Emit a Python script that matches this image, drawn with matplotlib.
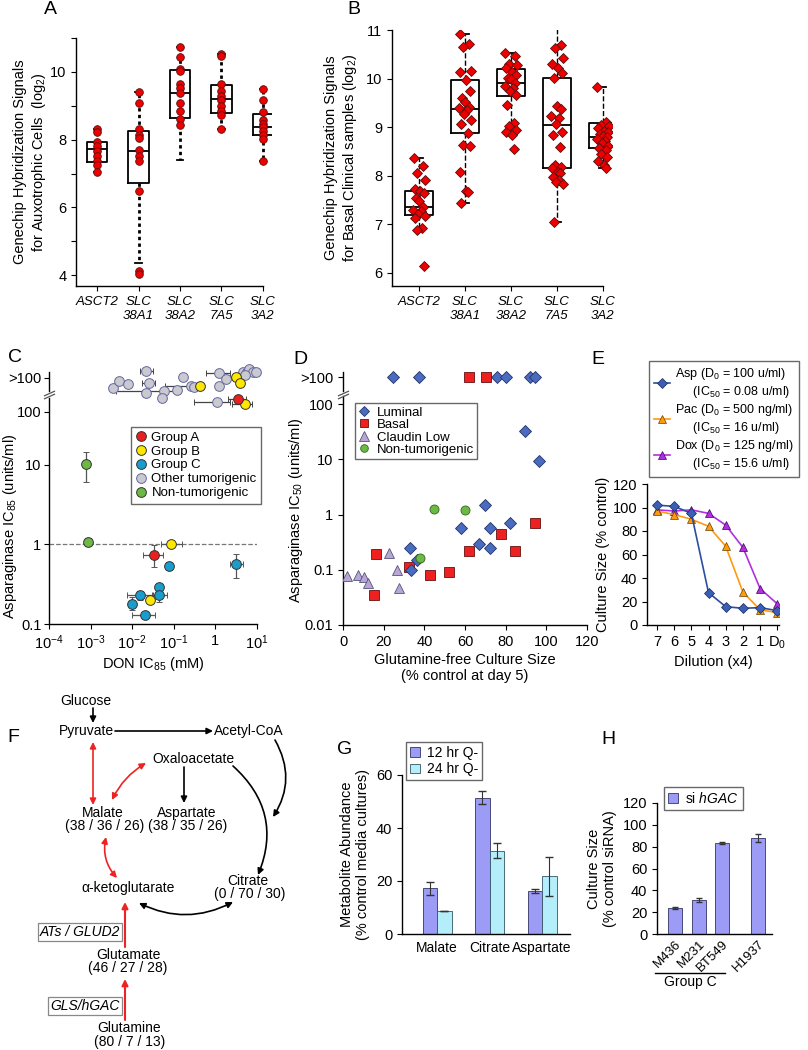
import numpy as np
import matplotlib
matplotlib.use('Agg')
import matplotlib.pyplot as plt
import matplotlib.transforms as mtrans
from matplotlib.lines import Line2D

plt.rcParams['font.family'] = ['Liberation Sans', 'DejaVu Sans']
plt.rcParams['mathtext.fontset'] = 'custom'
plt.rcParams['mathtext.rm'] = 'Liberation Sans'
plt.rcParams['mathtext.it'] = 'Liberation Sans:italic'
plt.rcParams['mathtext.default'] = 'regular'
plt.rcParams['font.size'] = 10
plt.rcParams['axes.linewidth'] = 1.0

# ---------------- data ----------------
genes = ['ASCT2', 'SLC\n38A1', 'SLC\n38A2', 'SLC\n7A5', 'SLC\n3A2']

# A: auxotrophic cells
a_points = [
    [8.31, 8.22, 7.92, 7.80, 7.66, 7.51, 7.36, 7.24, 7.04],
    [9.40, 9.08, 8.31, 8.15, 8.05, 7.68, 7.53, 7.37, 6.47, 4.11, 4.04],
    [10.74, 10.44, 10.09, 10.02, 9.63, 9.53, 9.38, 9.08, 8.84, 8.61, 8.44],
    [10.54, 10.46, 9.63, 9.43, 9.28, 9.18, 8.99, 8.84, 8.74, 8.31],
    [9.50, 9.18, 8.82, 8.59, 8.47, 8.36, 8.25, 8.15, 8.02, 7.38],
]
a_q1 = [7.33, 6.72, 8.64, 8.79, 8.14]
a_med = [7.73, 7.67, 9.38, 9.21, 8.38]
a_q3 = [7.92, 8.25, 10.05, 9.60, 8.76]
a_lo = [7.04, 4.37, 7.41, 8.31, 7.38]
a_hi = [8.31, 9.40, 10.74, 10.54, 9.50]

# B: basal clinical samples
b_points = [
    [8.36, 8.20, 8.06, 7.92, 7.72, 7.69, 7.65, 7.55, 7.48, 7.35, 7.30, 7.28,
     7.22, 7.17, 7.12, 6.92, 6.89, 6.14],
    [10.92, 10.71, 10.64, 10.16, 10.13, 9.97, 9.75, 9.61, 9.52, 9.42, 9.39,
     9.35, 9.28, 9.15, 9.06, 8.88, 8.64, 8.62, 8.08, 7.69, 7.67, 7.44],
    [10.52, 10.47, 10.31, 10.28, 10.21, 10.14, 10.07, 10.02, 9.99, 9.90, 9.85,
     9.80, 9.75, 9.66, 9.45, 9.09, 9.02, 8.94, 8.91, 8.84, 8.55],
    [11.14, 10.69, 10.62, 10.42, 10.31, 10.21, 10.12, 10.02, 9.43, 9.37, 9.23,
     9.18, 9.06, 8.89, 8.84, 8.60, 8.22, 8.18, 8.15, 8.08, 8.05, 7.98, 7.91,
     7.88, 7.84, 7.05],
    [9.82, 9.10, 9.05, 9.02, 8.98, 8.93, 8.90, 8.86, 8.82, 8.79, 8.75, 8.72,
     8.68, 8.62, 8.58, 8.52, 8.45, 8.38, 8.30, 8.22, 8.15],
]
b_q1 = [7.20, 8.87, 9.65, 8.15, 8.58]
b_med = [7.35, 9.38, 9.90, 9.05, 8.80]
b_q3 = [7.69, 9.98, 10.20, 10.02, 9.08]
b_lo = [6.89, 7.44, 8.84, 7.05, 8.15]
b_hi = [8.36, 10.92, 10.52, 11.14, 9.82]
jit = [-0.12, 0.08, -0.04, 0.13, -0.10, 0.03, 0.11, -0.07, 0.00, 0.09, -0.13,
       0.05, -0.02, 0.12, -0.09, 0.06, -0.05, 0.10, -0.11, 0.02, 0.07, -0.08,
       0.04, -0.03, 0.13, -0.06]

# C: DON IC85 vs asparaginase IC85  (x, y, xlo, xhi, ylo, yhi)
c_groups = {
    'Group A': ('#e8201f', [(0.033, 0.735, 0.018, 0.055, 0.52, 0.97)]),
    'Group B': ('#ffe800', [(0.085, 1.0, 0.049, 0.158, 1.0, 1.0),
                            (0.027, 0.20, 0.027, 0.027, 0.20, 0.20)]),
    'Group C': ('#1a9dcc', [(0.077, 0.535, 0.070, 0.085, 0.48, 0.60),
                            (3.2, 0.56, 2.3, 4.5, 0.376, 0.76),
                            (0.044, 0.293, 0.044, 0.044, 0.293, 0.293),
                            (0.0155, 0.23, 0.0074, 0.032, 0.20, 0.26),
                            (0.045, 0.228, 0.030, 0.070, 0.19, 0.27),
                            (0.010, 0.18, 0.010, 0.010, 0.15, 0.22),
                            (0.0204, 0.131, 0.010, 0.035, 0.131, 0.131)]),
    'Other tumorigenic': ('#c9c9d0', []),
    'Non-tumorigenic': ('#6cb944', [(7.8e-4, 10.3, 7.8e-4, 7.8e-4, 6.0, 17.6),
                                    (8.5e-4, 1.08, 8.5e-4, 8.5e-4, 0.95, 1.2)]),
}
# points above 100 units/ml (x, position in band, xlo, xhi)
c_band = {
    'Other tumorigenic': [(0.0034, 0.42, 0.0034, 0.0034), (0.0047, 0.60, 0.0047, 0.0047),
                          (0.0078, 0.52, 0.0078, 0.0078), (0.022, 0.84, 0.015, 0.032),
                          (0.025, 0.54, 0.017, 0.035), (0.021, 0.32, 0.021, 0.021),
                          (0.058, 0.36, 0.004, 0.12), (0.052, 0.18, 0.052, 0.052),
                          (0.12, 0.38, 0.12, 0.12), (0.17, 0.70, 0.17, 0.17),
                          (0.26, 0.48, 0.06, 0.5), (0.31, 0.46, 0.31, 0.31),
                          (1.23, 0.78, 0.6, 2.3), (1.23, 0.48, 1.23, 1.23),
                          (1.78, 0.64, 1.78, 1.78), (1.12, 0.10, 0.3, 2.3),
                          (4.7, 0.80, 4.7, 4.7), (5.6, 0.82, 5.6, 5.6),
                          (6.5, 0.87, 6.5, 6.5), (7.9, 0.82, 7.9, 7.9),
                          (9.5, 0.82, 9.5, 9.5), (5.1, 0.74, 5.1, 5.1)],
    'Group B': [(0.43, 0.48, 0.43, 0.43), (3.2, 0.70, 2.2, 3.2),
                (3.9, 0.55, 3.9, 3.9), (5.1, 0.05, 2.5, 7.5)],
    'Group A': [(3.55, 0.16, 2.0, 5.5)],
}

# D: glutamine-free culture size vs asparaginase IC50
lum_x = [32.8, 36.6, 33.6, 58.2, 66.9, 69.7, 72.1, 72.1, 82.0, 89.3, 96.4]
lum_y = [0.25, 0.15, 0.10, 0.565, 0.29, 1.46, 0.56, 0.245, 0.70, 33, 9.4]
lum_top = [24.6, 37.4, 75.9, 80.3, 91.8, 94.3]
bas_x = [16.1, 15.2, 32.5, 42.6, 52.1, 62.0, 77.5, 84.8, 94.3]
bas_y = [0.19, 0.035, 0.11, 0.081, 0.09, 0.22, 0.45, 0.22, 0.70]
bas_top = [61.8, 70.5]
cla_x = [2.0, 7.4, 10.3, 12.3, 22.6, 26.7, 27.5]
cla_y = [0.078, 0.080, 0.074, 0.057, 0.20, 0.097, 0.046]
non_x = [44.6, 60.2, 37.7]
non_y = [1.25, 1.21, 0.166]

# E: dilution series
dil_labels = ['7', '6', '5', '4', '3', '2', '1', 'D$_0$']
asp = [102, 101, 95, 27.5, 15.6, 14.2, 14.8, 12.2]
pac = [97, 94, 90, 84, 67, 28, 13, 10.5]
dox = [98, 97, 98, 95, 85, 66, 31, 18]

# G: metabolite abundance
metabolites = ['Malate', 'Citrate', 'Aspartate']
q12 = [17.2, 51.4, 16.1]
q12_err = [2.5, 2.5, 0.8]
q24 = [8.6, 31.5, 21.7]
q24_err = [0, 3.0, 7.5]

# H: siRNA
cells = ['M436', 'M231', 'BT549', 'H1937']
cell_pos = [0, 1, 2, 3.5]
si_gac = [23.6, 31.2, 83.2, 87.8]
si_err = [1.0, 1.5, 1.0, 3.5]

# ---------------- figure ----------------
W, H = 808, 1050
fig = plt.figure(figsize=(W / 100, H / 100), dpi=100)


def px_axes(l, t, r, b, **kw):
    return fig.add_axes([l / W, 1 - b / H, (r - l) / W, (b - t) / H], **kw)


def clean(ax):
    ax.spines['top'].set_visible(False)
    ax.spines['right'].set_visible(False)


def boxes(ax, q1, med, q3, lo, hi, width, wls, wlw):
    stats = [dict(q1=a, med=m, q3=b, whislo=l, whishi=h, fliers=[])
             for a, m, b, l, h in zip(q1, med, q3, lo, hi)]
    ax.bxp(stats, positions=range(1, len(stats) + 1), widths=width,
           showfliers=False, capwidths=0.16,
           boxprops=dict(color='black', lw=1.3),
           medianprops=dict(color='black', lw=1.3),
           whiskerprops=dict(color='black', lw=wlw, ls=wls),
           capprops=dict(color='black', lw=1.3))


def fig_legend(ax, x, y, **kw):
    opts = dict(loc='upper left', bbox_to_anchor=(x / W, 1 - y / H),
                bbox_transform=fig.transFigure, fancybox=False,
                edgecolor='#444444', borderaxespad=0)
    opts.update(kw)
    return ax.legend(**opts)


# ---- A ----
axa = px_axes(76, 38, 272, 286)
clean(axa)
boxes(axa, a_q1, a_med, a_q3, a_lo, a_hi, 0.5, (0, (1.2, 1.2)), 2.0)
for i, pts in enumerate(a_points):
    axa.plot([i + 1] * len(pts), pts, 'o', ms=5.5, mfc='#ee0000',
             mec='#551111', mew=0.6, zorder=5)
axa.set_xlim(0.49, 5.22)
axa.set_ylim(3.68, 11)
axa.spines['bottom'].set_bounds(0.49, 5)
axa.set_yticks(range(4, 12))
axa.set_yticklabels(['4', '', '6', '', '8', '', '10', ''], fontsize=10.5)
axa.set_xticks(range(1, 6))
axa.set_xticklabels(genes, fontstyle='italic', fontsize=9.5)
axa.set_ylabel('Genechip Hybridization Signals\nfor Auxotrophic Cells  (log$_2$)',
               fontsize=10.5)
axa.yaxis.set_label_coords(-28 / 196, 0.5)

# ---- B ----
axb = px_axes(392, 30, 612, 286)
clean(axb)
boxes(axb, b_q1, b_med, b_q3, b_lo, b_hi, 0.62, '--', 1.0)
for i, pts in enumerate(b_points):
    xs = [i + 1 + jit[k] for k in range(len(pts))]
    axb.plot(xs, pts, 'D', ms=5, mfc='#ee0000', mec='#551111', mew=0.6,
             zorder=5)
axb.set_xlim(0.41, 5.2)
axb.set_ylim(5.73, 11)
axb.spines['bottom'].set_bounds(0.41, 5)
axb.set_yticks(range(6, 12))
axb.tick_params(axis='y', labelsize=10.5)
axb.set_xticks(range(1, 6))
axb.set_xticklabels(genes, fontstyle='italic', fontsize=9.5)
axb.set_ylabel('Genechip Hybridization Signals\nfor Basal Clinical samples (log$_2$)',
               fontsize=10.5)
axb.yaxis.set_label_coords(-33 / 220, 0.5)


# ---- C ----
def c_fwd(v):
    l = np.log10(np.clip(np.asarray(v, dtype=float), 1e-12, None))
    return np.where(l <= 1, l, 1 + (l - 1) * 0.66)


def c_inv(t):
    t = np.asarray(t, dtype=float)
    return np.where(t <= 1, 10.0 ** t, 10.0 ** (1 + (t - 1) / 0.66))


axc = px_axes(49, 398, 257, 624)
clean(axc)
axc.set_xscale('log')
axc.set_yscale('function', functions=(c_fwd, c_inv))
axc.set_xlim(1e-4, 10)
axc.set_ylim(0.1, 184)
axc.axhline(1, color='#777777', ls='--', lw=0.9, zorder=1)
for name, (col, pts) in c_groups.items():
    ec = '#6666a0' if name == 'Other tumorigenic' else '#333333'
    for x, y, xlo, xhi, ylo, yhi in pts:
        axc.errorbar([x], [y], xerr=[[x - xlo], [xhi - x]],
                     yerr=[[y - ylo], [yhi - y]], fmt='o', ms=7, mfc=col,
                     mec=ec, mew=0.7, ecolor='#555555', elinewidth=0.9,
                     capsize=2, zorder=4)
axc.set_xticks([1e-4, 1e-3, 1e-2, 1e-1, 1, 10])
axc.set_xticklabels(['$10^{-4}$', '$10^{-3}$', '$10^{-2}$', '$10^{-1}$', '1',
                     '$10^{1}$'], fontsize=10.5)
axc.xaxis.set_minor_locator(matplotlib.ticker.NullLocator())
axc.yaxis.set_minor_locator(matplotlib.ticker.NullLocator())
axc.set_yticks([0.1, 1, 10, 100])
axc.set_yticklabels(['0.1', '1', '10', '100'], fontsize=10.5)
axc.tick_params(axis='y', pad=2)
axc.set_xlabel('DON IC$_{85}$ (mM)', fontsize=10.5, labelpad=2)
axc.set_ylabel('Asparaginase IC$_{85}$ (units/ml)', fontsize=10.5)
axc.yaxis.set_label_coords(-30 / 208, 0.43)
fig_legend(axc, 131, 427,
           handles=[Line2D([], [], ls='none', marker='o', ms=7, mfc=c,
                           mec='#6666a0' if n == 'Other tumorigenic' else '#333333',
                           mew=0.7, label=n)
                    for n, (c, _) in c_groups.items()],
           fontsize=9.5, handlelength=0.8, handletextpad=0.4, borderpad=0.35,
           labelspacing=0.12)

axcb = px_axes(49, 364, 257, 406, sharex=axc)
axcb.patch.set_visible(False)
for s in ['top', 'right', 'bottom']:
    axcb.spines[s].set_visible(False)
axcb.set_ylim(0, 1)
axcb.spines['left'].set_bounds(0.36, 0.80)
axcb.set_yticks([0.67])
axcb.set_yticklabels(['>100'], fontsize=10.5)
axcb.tick_params(axis='y', pad=2)
axcb.tick_params(axis='x', bottom=False, labelbottom=False, which='both')
for name, pts in c_band.items():
    col = c_groups[name][0]
    ec = '#6666a0' if name == 'Other tumorigenic' else '#333333'
    for x, y, xlo, xhi in pts:
        axcb.errorbar([x], [y], xerr=[[x - xlo], [xhi - x]], fmt='o', ms=7,
                      mfc=col, mec=ec, mew=0.7, ecolor='#444444',
                      elinewidth=0.9, capsize=2, zorder=4, clip_on=False)
axcb.plot([0, 0], [0.24, 0.31], ls='none', marker=[(-1, -0.45), (1, 0.45)],
          ms=8, mec='#555555', mew=0.9, transform=axcb.transAxes,
          clip_on=False)

# ---- D ----
axd = px_axes(343, 396, 587, 625)
clean(axd)
axd.set_yscale('log')
axd.set_xlim(0, 120)
axd.set_ylim(0.01, 140)
axd.yaxis.set_minor_locator(matplotlib.ticker.NullLocator())
axd.set_yticks([0.01, 0.1, 1, 10, 100])
axd.set_yticklabels(['0.01', '0.1', '1', '10', '100'], fontsize=10.5)
axd.set_xticks(range(0, 121, 20))
axd.tick_params(axis='x', labelsize=10.5)
d_style = {
    'Luminal': dict(marker='D', ms=6.5, mfc='#4a6cc0', mec='#223366'),
    'Basal': dict(marker='s', ms=7, mfc='#ee2020', mec='#661111'),
    'Claudin Low': dict(marker='^', ms=7.5, mfc='#b9a6d6', mec='#555577'),
    'Non-tumorigenic': dict(marker='o', ms=6.5, mfc='#6cb944', mec='#336622'),
}
axd.plot(cla_x, cla_y, ls='none', mew=0.6, zorder=3, **d_style['Claudin Low'])
axd.plot(bas_x, bas_y, ls='none', mew=0.6, zorder=3, **d_style['Basal'])
axd.plot(lum_x, lum_y, ls='none', mew=0.6, zorder=4, **d_style['Luminal'])
axd.plot(non_x, non_y, ls='none', mew=0.6, zorder=5, **d_style['Non-tumorigenic'])
axd.set_xlabel('Glutamine-free Culture Size\n(% control at day 5)',
               fontsize=10.5, labelpad=3)
axd.set_ylabel('Asparaginase IC$_{50}$ (units/ml)', fontsize=10.5, labelpad=0)
fig_legend(axd, 355, 403,
           handles=[Line2D([], [], ls='none', label=n, mew=0.6,
                           **dict(st, ms=st['ms'] - 1))
                    for n, st in d_style.items()],
           fontsize=9.5, handlelength=0.8, handletextpad=0.6, borderpad=0.25,
           labelspacing=0.02)

axdb = px_axes(343, 364, 587, 406, sharex=axd)
axdb.patch.set_visible(False)
for s in ['top', 'right', 'bottom']:
    axdb.spines[s].set_visible(False)
axdb.set_ylim(0, 1)
axdb.spines['left'].set_bounds(0.36, 0.80)
axdb.set_yticks([0.69])
axdb.set_yticklabels(['>100'], fontsize=10.5)
axdb.tick_params(axis='x', bottom=False, labelbottom=False, which='both')
axdb.plot(lum_top, [0.69] * len(lum_top), ls='none', mew=0.6, zorder=4,
          **d_style['Luminal'])
axdb.plot(bas_top, [0.69] * len(bas_top), ls='none', mew=0.6, zorder=4,
          **d_style['Basal'])
axdb.plot([0, 0], [0.24, 0.31], ls='none', marker=[(-1, -0.45), (1, 0.45)],
          ms=8, mec='#555555', mew=0.9, transform=axdb.transAxes,
          clip_on=False)

# ---- E ----
axe = px_axes(647, 484, 779, 625)
clean(axe)
xe = np.arange(len(dil_labels))
l_asp, = axe.plot(xe, asp, '-D', color='#2c4ea0', ms=5, mfc='#3a5fb5',
                  mec='#1a2a60', mew=0.5, lw=1.2, zorder=5)
l_pac, = axe.plot(xe, pac, '-^', color='#ff9a10', ms=6, mfc='#ff9a10',
                  mec='#664400', mew=0.5, lw=1.2, zorder=4)
l_dox, = axe.plot(xe, dox, '-^', color='#b030e0', ms=6, mfc='#b030e0',
                  mec='#440066', mew=0.5, lw=1.2, zorder=3)
axe.set_xlim(-0.58, 7.1)
axe.set_ylim(0, 120)
axe.set_yticks(range(0, 121, 20))
axe.set_xticks(xe)
axe.set_xticklabels(dil_labels)
axe.tick_params(labelsize=10.5)
axe.set_xlabel('Dilution (x4)', fontsize=10.5, labelpad=3)
axe.set_ylabel('Culture Size (% control)', fontsize=10.5, labelpad=2)
fig_legend(axe, 649, 361,
           handles=[l_asp, l_pac, l_dox],
           labels=['Asp (D$_0$ = 100 u/ml)\n     (IC$_{50}$ = 0.08 u/ml)',
                   'Pac (D$_0$ = 500 ng/ml)\n     (IC$_{50}$ = 16 u/ml)',
                   'Dox (D$_0$ = 125 ng/ml)\n     (IC$_{50}$ = 15.6 u/ml)'],
           fontsize=9, handlelength=1.3, handletextpad=0.4, borderpad=0.4,
           labelspacing=0.15)

# ---- F (pathway diagram) ----
axf = px_axes(0, 690, 330, 1050)
axf.set_xlim(0, 330)
axf.set_ylim(1050, 690)
axf.axis('off')
RED = '#ee2222'
fs = 10
for txt, x, y in [('Glucose', 86, 701), ('Pyruvate', 86, 731),
                  ('Acetyl-CoA', 249, 731), ('Oxaloacetate', 193, 759),
                  ('Malate', 103, 813), ('(38 / 36 / 26)', 105, 826),
                  ('Aspartate', 187, 813), ('(38 / 35 / 26)', 188, 826),
                  ('\u03b1-ketoglutarate', 128, 888), ('Citrate', 248, 881),
                  ('(0 / 70 / 30)', 250, 894), ('Glutamate', 128, 955),
                  ('(46 / 27 / 28)', 128, 968), ('Glutamine', 129, 1028),
                  ('(80 / 7 / 13)', 130, 1042)]:
    axf.text(x, y, txt, ha='center', va='center', fontsize=fs)
for txt, x, y in [('ATs / GLUD2', 80, 932), ('GLS/hGAC', 85, 1006)]:
    axf.text(x, y, txt, ha='center', va='center', fontsize=fs,
             fontstyle='italic',
             bbox=dict(boxstyle='square,pad=0.15', fc='white', ec='#888888',
                       lw=0.9))


def arrow(p0, p1, color, rad=0.0, both=False, lw=1.2):
    axf.annotate('', xy=p1, xytext=p0,
                 arrowprops=dict(arrowstyle='<|-|>' if both else '-|>',
                                 color=color, lw=lw, shrinkA=0, shrinkB=0,
                                 mutation_scale=9,
                                 connectionstyle=f'arc3,rad={rad}'))


arrow((93, 708), (93, 723), 'black')
arrow((115, 731), (213, 731), 'black')
arrow((93, 742), (93, 805), RED, both=True)
arrow((146, 763), (112, 800), RED, rad=0.15, both=True)
arrow((184, 767), (184, 803), 'black')
arrow((275, 740), (273, 817), 'black', rad=-0.3)
arrow((233, 766), (258, 875), 'black', rad=-0.35)
arrow((106, 837), (117, 878), RED, rad=0.25, both=True)
arrow((139, 903), (233, 902), 'black', rad=0.25, both=True)
arrow((125, 947), (125, 902), RED, lw=1.5)
arrow((125, 1020), (125, 979), RED, lw=1.5)

# ---- G ----
axg = px_axes(402, 775, 570, 934)
clean(axg)
xg = np.arange(len(metabolites))
bw = 0.276
axg.bar(xg - bw / 2, q12, bw, yerr=q12_err, color='#9c9cf6', edgecolor='#333366',
        lw=0.6, capsize=3, error_kw=dict(elinewidth=0.8, ecolor='#333333'),
        label='12 hr Q-')
axg.bar(xg + bw / 2, q24, bw, yerr=q24_err, color='#b4eefa', edgecolor='#335566',
        lw=0.6, capsize=3, error_kw=dict(elinewidth=0.8, ecolor='#333333'),
        label='24 hr Q-')
axg.set_xlim(-0.667, 2.53)
axg.set_ylim(0, 60)
axg.set_yticks(range(0, 61, 20))
axg.set_xticks(xg)
axg.set_xticklabels(metabolites, fontsize=10)
axg.tick_params(axis='x', length=0, pad=5)
axg.tick_params(axis='y', labelsize=10.5)
axg.set_ylabel('Metabolite Abundance\n(% control media cultures)', fontsize=10.5)
fig_legend(axg, 406, 742, fontsize=10, handlelength=0.7, handleheight=0.7,
           handletextpad=0.5, borderpad=0.3, labelspacing=0.15)

# ---- H ----
axh = px_axes(657, 803, 772, 934)
clean(axh)
axh.bar(cell_pos, si_gac, 0.6, yerr=si_err, color='#9c9cf6', edgecolor='#333366',
        lw=0.6, capsize=2.5, error_kw=dict(elinewidth=0.8, ecolor='#333333'),
        label='si $\\it{hGAC}$')
axh.set_xlim(-0.77, 4.1)
axh.set_ylim(0, 120)
axh.set_yticks(range(0, 121, 20))
axh.set_xticks(cell_pos)
axh.set_xticklabels(cells, rotation=45, ha='right', rotation_mode='anchor',
                    fontsize=9.5)
axh.tick_params(axis='x', length=0, pad=3)
axh.tick_params(axis='y', labelsize=10.5)
axh.set_ylabel('Culture Size\n(% control siRNA)', fontsize=10.5)
fig_legend(axh, 664, 787, fontsize=10, handlelength=0.7, handleheight=0.7,
           handletextpad=0.5, borderpad=0.3)
btr = mtrans.blended_transform_factory(axh.transData, axh.transAxes)
axh.plot([-0.85, 2.13], [-0.30, -0.30], color='black', lw=1.0,
         transform=btr, clip_on=False)
axh.text(0.64, -0.37, 'Group C', ha='center', va='center', fontsize=10,
         transform=btr)

# ---- panel letters ----
for lab, x, y in [('A', 50, 10), ('B', 354, 9), ('C', 15, 358), ('D', 300, 360),
                  ('E', 598, 360), ('F', 13, 738), ('G', 345, 750),
                  ('H', 608, 740)]:
    fig.text(x / W, 1 - y / H, lab, fontsize=14, ha='center', va='center')

fig.savefig('out.png', dpi=100)
